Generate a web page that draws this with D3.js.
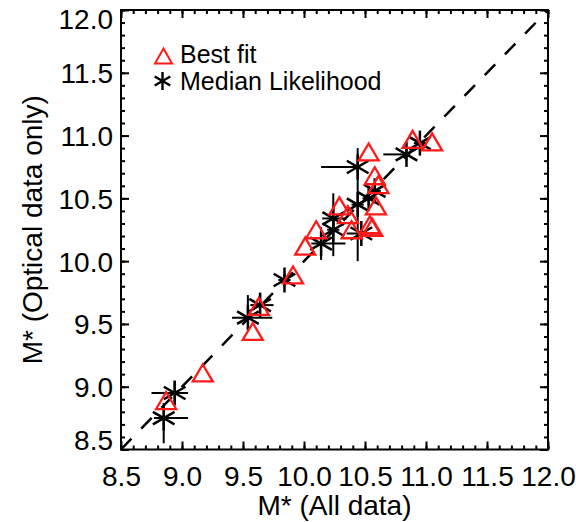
<!DOCTYPE html>
<html><head><meta charset="utf-8">
<script src="https://cdn.jsdelivr.net/npm/d3@7"></script>
<style>
html,body{margin:0;padding:0;background:#fff;}
svg{display:block;font-family:"Liberation Sans",Arial,Helvetica,sans-serif;}
</style></head>
<body>
<svg id="c" width="576" height="522"></svg>
<script>
// ---- data ----
const tickValues = [8.5, 9.0, 9.5, 10.0, 10.5, 11.0, 11.5, 12.0];
const tickLabels = ["8.5", "9.0", "9.5", "10.0", "10.5", "11.0", "11.5", "12.0"];
const legendLabels = ["Best fit", "Median Likelihood"];
const xTitle = "M* (All data)";
const yTitle = "M* (Optical data only)";

// Best fit (triangles): x = all data, y = optical only
const bestX = [8.87, 9.17, 9.58, 9.63, 9.91, 10.01, 10.10, 10.29, 10.36, 10.39, 10.53, 10.58, 10.61, 10.59, 10.54, 10.56, 10.89, 11.05];
const bestY = [8.89, 9.11, 9.44, 9.64, 9.89, 10.12, 10.25, 10.44, 10.37, 10.25, 10.87, 10.68, 10.61, 10.44, 10.29, 10.27, 10.97, 10.95];

// Median likelihood (asterisks) with asymmetric errors
const medX   = [8.85, 8.94, 9.54, 9.64, 9.84, 10.14, 10.24, 10.24, 10.44, 10.44, 10.53, 10.58, 10.47, 10.84, 10.95];
const medY   = [8.75, 8.95, 9.55, 9.65, 9.85, 10.14, 10.34, 10.25, 10.75, 10.45, 10.50, 10.56, 10.22, 10.85, 10.94];
const medXlo = [0.08, 0.19, 0.13, 0.08, 0.05, 0.08, 0.09, 0.05, 0.30, 0.05, 0.05, 0.05, 0.12, 0.19, 0.05];
const medXhi = [0.20, 0.11, 0.20, 0.11, 0.05, 0.20, 0.11, 0.05, 0.02, 0.05, 0.05, 0.05, 0.16, 0.03, 0.05];
const medYlo = [0.20, 0.09, 0.05, 0.09, 0.05, 0.13, 0.30, 0.05, 0.05, 0.45, 0.05, 0.05, 0.05, 0.05, 0.06];
const medYhi = [0.12, 0.09, 0.18, 0.09, 0.05, 0.13, 0.20, 0.05, 0.05, 0.45, 0.05, 0.05, 0.05, 0.05, 0.06];

// ---- layout ----
const L = 121, R = 548, T = 10, B = 449.5;
const svg = d3.select("#c");
const x = d3.scaleLinear().domain([8.5, 12]).range([L, R]);
const y = d3.scaleLinear().domain([8.5, 12]).range([B, T]);
const minor = d3.range(85, 121).map(v => v / 10);

function ax(gen, tr, vals, size, labels) {
  const g = svg.append("g").attr("transform", tr)
    .call(gen.tickValues(vals).tickSize(size).tickSizeOuter(0)
      .tickFormat(labels ? (d, i) => labels[i] : () => ""));
  g.select(".domain").remove();
  g.selectAll("line").attr("stroke", "#000").attr("stroke-width", 2);
  g.selectAll("text").attr("fill", "#000").style("font-size", "28px");
  return g;
}
// minor ticks
ax(d3.axisBottom(x), `translate(0,${B})`, minor, -4);
ax(d3.axisTop(x), `translate(0,${T})`, minor, -4);
ax(d3.axisLeft(y), `translate(${L},0)`, minor, -4);
ax(d3.axisRight(y), `translate(${R},0)`, minor, -4);
// major ticks
const gb = ax(d3.axisBottom(x), `translate(0,${B})`, tickValues, -8, tickLabels);
gb.selectAll("text").attr("dy", null).attr("y", 36);
ax(d3.axisTop(x), `translate(0,${T})`, tickValues, -8);
const gl = ax(d3.axisLeft(y), `translate(${L},0)`, tickValues, -8, tickLabels);
gl.selectAll("text").attr("x", -8).attr("dy", null)
  .attr("y", d => {
    const base = y(d) + 10;
    return Math.min(Math.max(base, T + 18), B) - y(d);
  });
ax(d3.axisRight(y), `translate(${R},0)`, tickValues, -8);

// frame
svg.append("rect").attr("x", L).attr("y", T).attr("width", R - L).attr("height", B - T)
  .attr("fill", "none").attr("stroke", "#000").attr("stroke-width", 2);

// one-to-one dashed line
svg.append("line")
  .attr("x1", x(8.5)).attr("y1", y(8.5)).attr("x2", x(12)).attr("y2", y(12))
  .attr("stroke", "#000").attr("stroke-width", 2.5).attr("stroke-dasharray", "15,14");

// symbols
function asterisk(g, cx, cy, r, sw) {
  const angs = [90, 30, -30];
  angs.forEach(a => {
    const rad = a * Math.PI / 180;
    const dx = r * Math.cos(rad), dy = r * Math.sin(rad);
    g.append("line").attr("x1", cx - dx).attr("y1", cy - dy).attr("x2", cx + dx).attr("y2", cy + dy)
      .attr("stroke", "#000").attr("stroke-width", sw);
  });
}
function triangle(g, cx, cy, w, h, sw) {
  g.append("path")
    .attr("d", `M${cx - w / 2},${cy + h / 2}L${cx + w / 2},${cy + h / 2}L${cx},${cy - h / 2}Z`)
    .attr("fill", "none").attr("stroke", "#ff1a1a").attr("stroke-width", sw).attr("stroke-linejoin", "miter");
}

const gm = svg.append("g");
medX.forEach((v, i) => {
  const cx = x(v), cy = y(medY[i]);
  gm.append("line").attr("x1", x(v - medXlo[i])).attr("x2", x(v + medXhi[i])).attr("y1", cy).attr("y2", cy)
    .attr("stroke", "#000").attr("stroke-width", 2);
  gm.append("line").attr("x1", cx).attr("x2", cx).attr("y1", y(medY[i] - medYlo[i])).attr("y2", y(medY[i] + medYhi[i]))
    .attr("stroke", "#000").attr("stroke-width", 2);
  asterisk(gm, cx, cy, 12.5, 2.5);
});

const gt = svg.append("g");
bestX.forEach((v, i) => triangle(gt, x(v), y(bestY[i]), 20, 17, 2.3));

// legend
const lg = svg.append("g");
triangle(lg, 163.5, 56, 17, 15, 2);
asterisk(lg, 162.5, 81, 9, 2.4);
lg.append("text").attr("x", 180).attr("y", 63).text(legendLabels[0]).style("font-size", "25px");
lg.append("text").attr("x", 180).attr("y", 90).text(legendLabels[1]).style("font-size", "25px");

// titles
svg.append("text").attr("x", (L + R) / 2).attr("y", 515).attr("text-anchor", "middle")
  .style("font-size", "28px").text(xTitle);
svg.append("text").attr("transform", `translate(42,${(T + B) / 2}) rotate(-90)`).attr("text-anchor", "middle")
  .style("font-size", "28px").text(yTitle);
</script>
</body></html>
